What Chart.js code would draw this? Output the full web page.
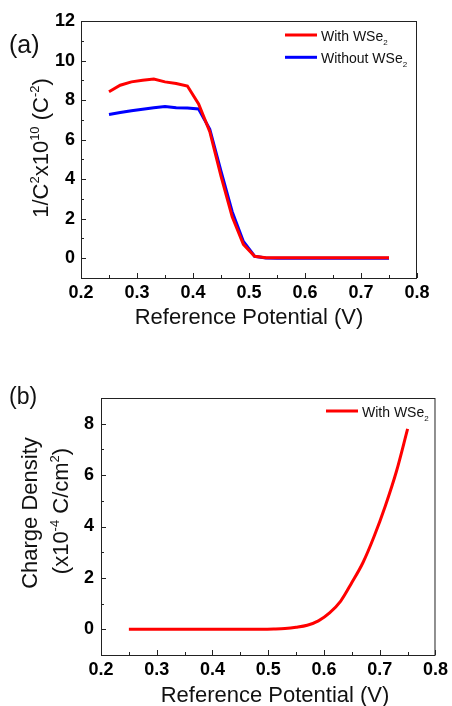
<!DOCTYPE html>
<html>
<head>
<meta charset="utf-8">
<script src="https://cdn.jsdelivr.net/npm/chart.js@4.4.0/dist/chart.umd.min.js"></script>
<style>
  body { margin: 0; background: #fff; }
  .box { position: absolute; left: 0; width: 452px; }
  canvas { display: block; }
</style>
</head>
<body>
<div class="box" style="top:0;height:330px"><canvas id="chartA"></canvas></div>
<div class="box" style="top:340px;height:366px"><canvas id="chartB"></canvas></div>
<script>
// ---- data ----
const potential = [0.25, 0.27, 0.29, 0.31, 0.33, 0.35, 0.37, 0.39, 0.41, 0.43, 0.45, 0.47, 0.49,
                   0.51, 0.53, 0.55, 0.57, 0.59, 0.61, 0.63, 0.65, 0.67, 0.69, 0.71, 0.73, 0.75];

// (a) 1/C^2 x10^10
const withWSe2 = [8.42, 8.75, 8.92, 9.0, 9.06, 8.92, 8.84, 8.71, 7.8, 6.4, 4.15, 2.1, 0.7,
                  0.1, 0.03, 0.02, 0.02, 0.02, 0.02, 0.02, 0.02, 0.02, 0.02, 0.02, 0.02, 0.02];
const withoutWSe2 = [7.27, 7.37, 7.46, 7.54, 7.61, 7.68, 7.61, 7.6, 7.55, 6.52, 4.4, 2.35, 0.85,
                     0.1, 0.01, 0, 0, 0, 0, 0, 0, 0, 0, 0, 0, 0];

// (b) charge density x10^-4 C/cm^2
const chargeDensity = [0, 0, 0, 0, 0, 0, 0, 0, 0, 0, 0, 0, 0,
                       0.01, 0.03, 0.08, 0.16, 0.33, 0.64, 1.1, 1.82, 2.6, 3.62, 4.8, 6.15, 7.8];

const seriesNamesA = ['With WSe_2', 'Without WSe_2'];
const seriesNamesB = ['With WSe_2'];

const xTicks = [0.2, 0.3, 0.4, 0.5, 0.6, 0.7, 0.8];
const xMinor = [0.25, 0.35, 0.45, 0.55, 0.65, 0.75];
const yTicksA = [0, 2, 4, 6, 8, 10, 12];
const yMinorA = [1, 3, 5, 7, 9, 11];
const yTicksB = [0, 2, 4, 6, 8];
const yMinorB = [1, 3, 5, 7];

const FONT = '"Liberation Sans", Arial, sans-serif';

// "^{..}" superscript, "_{..}" subscript
function parseRich(s) {
  const out = [];
  let i = 0, buf = '';
  while (i < s.length) {
    const c = s[i];
    if (c === '^' || c === '_') {
      if (buf) { out.push({ t: buf }); buf = ''; }
      let t;
      if (s[i + 1] === '{') { const j = s.indexOf('}', i); t = s.slice(i + 2, j); i = j + 1; }
      else { t = s[i + 1]; i += 2; }
      out.push({ t: t, sup: c === '^', sub: c === '_' });
    } else { buf += c; i++; }
  }
  if (buf) out.push({ t: buf });
  return out;
}

// draws rich text with baseline at y; align 'left' or 'center'
function drawRich(ctx, str, x, y, size, align) {
  const segs = parseRich(str);
  const small = Math.round(size * 0.6);
  let w = 0;
  segs.forEach(s => {
    ctx.font = (s.sup || s.sub ? small : size) + 'px ' + FONT;
    s.w = ctx.measureText(s.t).width;
    w += s.w;
  });
  let cx = align === 'center' ? x - w / 2 : x;
  ctx.textBaseline = 'alphabetic';
  ctx.textAlign = 'left';
  segs.forEach(s => {
    ctx.font = (s.sup || s.sub ? small : size) + 'px ' + FONT;
    let dy = 0;
    if (s.sup) dy = -size * 0.4;
    if (s.sub) dy = size * 0.25;
    ctx.fillText(s.t, cx, y + dy);
    cx += s.w;
  });
}

const decor = {
  id: 'decor',
  afterDraw(chart, args, o) {
    const ctx = chart.ctx;
    const a = chart.chartArea;
    const xs = chart.scales.x, ys = chart.scales.y;
    ctx.save();
    // frame
    ctx.strokeStyle = '#222';
    ctx.lineWidth = 1;
    ctx.strokeRect(a.left + 0.5, a.top + 0.5, a.right - a.left - 1, a.bottom - a.top);
    // inward ticks
    ctx.beginPath();
    xTicks.forEach(v => { const p = Math.round(xs.getPixelForValue(v)) + 0.5; ctx.moveTo(p, a.bottom); ctx.lineTo(p, a.bottom - 5); });
    xMinor.forEach(v => { const p = Math.round(xs.getPixelForValue(v)) + 0.5; ctx.moveTo(p, a.bottom); ctx.lineTo(p, a.bottom - 3); });
    o.yTicks.forEach(v => { const p = Math.round(ys.getPixelForValue(v)) + 0.5; ctx.moveTo(a.left, p); ctx.lineTo(a.left + 5, p); });
    o.yMinor.forEach(v => { const p = Math.round(ys.getPixelForValue(v)) + 0.5; ctx.moveTo(a.left, p); ctx.lineTo(a.left + 3, p); });
    ctx.stroke();

    ctx.fillStyle = '#111';
    // x title
    drawRich(ctx, o.xTitle, o.xTitleX, o.xTitleY, 22, 'center');
    // y title(s), rotated
    o.yTitles.forEach(t => {
      ctx.save();
      ctx.translate(t.x, t.y);
      ctx.rotate(-Math.PI / 2);
      drawRich(ctx, t.text, 0, 0, 22, 'center');
      ctx.restore();
    });
    // panel label
    ctx.font = o.panelSize + 'px ' + FONT;
    ctx.textAlign = 'left';
    ctx.fillText(o.panel, 9, o.panelY);
    // legend
    chart.data.datasets.forEach((ds, i) => {
      const ly = o.legend.y + i * o.legend.gap;
      ctx.strokeStyle = ds.borderColor;
      ctx.lineWidth = 3;
      ctx.beginPath();
      ctx.moveTo(o.legend.x, ly);
      ctx.lineTo(o.legend.x + 32, ly);
      ctx.stroke();
      ctx.fillStyle = '#111';
      drawRich(ctx, ds.label, o.legend.x + 36, ly + 6, 14, 'left');
    });
    ctx.restore();
  }
};

function pts(ys) { return potential.map((x, i) => ({ x: x, y: ys[i] })); }

function makeChart(id, datasets, cfg) {
  return new Chart(document.getElementById(id), {
    type: 'line',
    data: { datasets: datasets },
    plugins: [decor],
    options: {
      responsive: true,
      maintainAspectRatio: false,
      animation: false,
      layout: { padding: cfg.padding },
      elements: { point: { radius: 0 }, line: { borderWidth: 3 } },
      plugins: { legend: { display: false }, tooltip: { enabled: false }, decor: cfg.decor },
      scales: {
        x: {
          type: 'linear', min: 0.2, max: 0.8,
          afterBuildTicks: s => { s.ticks = xTicks.map(v => ({ value: v })); },
          afterFit: s => { s.height = cfg.xHeight; },
          grid: { display: false, drawTicks: false },
          border: { display: false },
          ticks: { color: '#000', padding: 4, font: { family: FONT, size: 18, weight: 'bold' }, callback: v => v.toFixed(1) }
        },
        y: {
          min: cfg.yMin, max: cfg.yMax,
          afterBuildTicks: s => { s.ticks = cfg.decor.yTicks.map(v => ({ value: v })); },
          afterFit: s => { s.width = cfg.yWidth; },
          grid: { display: false, drawTicks: false },
          border: { display: false },
          ticks: { color: '#000', padding: cfg.yPad, font: { family: FONT, size: 18, weight: 'bold' } }
        }
      }
    }
  });
}

makeChart('chartA', [
  { label: seriesNamesA[0], data: pts(withWSe2), borderColor: '#ff0000', backgroundColor: '#ff0000', tension: 0 },
  { label: seriesNamesA[1], data: pts(withoutWSe2), borderColor: '#0000ff', backgroundColor: '#0000ff', tension: 0 }
], {
  padding: { top: 21, right: 35, left: 0, bottom: 0 },
  xHeight: 52, yWidth: 81, yMin: -1, yMax: 12, yPad: 6,
  decor: {
    yTicks: yTicksA, yMinor: yMinorA,
    xTitle: 'Reference Potential (V)', xTitleX: 249, xTitleY: 324,
    yTitles: [{ text: '1/C^2x10^{10} (C^{-2})', x: 47.5, y: 148 }],
    panel: '(a)', panelSize: 25, panelY: 53,
    legend: { x: 285, y: 35, gap: 22.3 }
  }
});

makeChart('chartB', [
  { label: seriesNamesB[0], data: pts(chargeDensity), borderColor: '#ff0000', backgroundColor: '#ff0000', cubicInterpolationMode: 'monotone' }
], {
  padding: { top: 58, right: 15, left: 0, bottom: 0 },
  xHeight: 51, yWidth: 101, yMin: -1, yMax: 9, yPad: 7,
  decor: {
    yTicks: yTicksB, yMinor: yMinorB,
    xTitle: 'Reference Potential (V)', xTitleX: 275, xTitleY: 362,
    yTitles: [{ text: 'Charge Density', x: 37, y: 173 }, { text: '(x10^{-4} C/cm^2)', x: 68, y: 171 }],
    panel: '(b)', panelSize: 23, panelY: 64,
    legend: { x: 326, y: 71, gap: 22 }
  }
});
</script>
</body>
</html>
